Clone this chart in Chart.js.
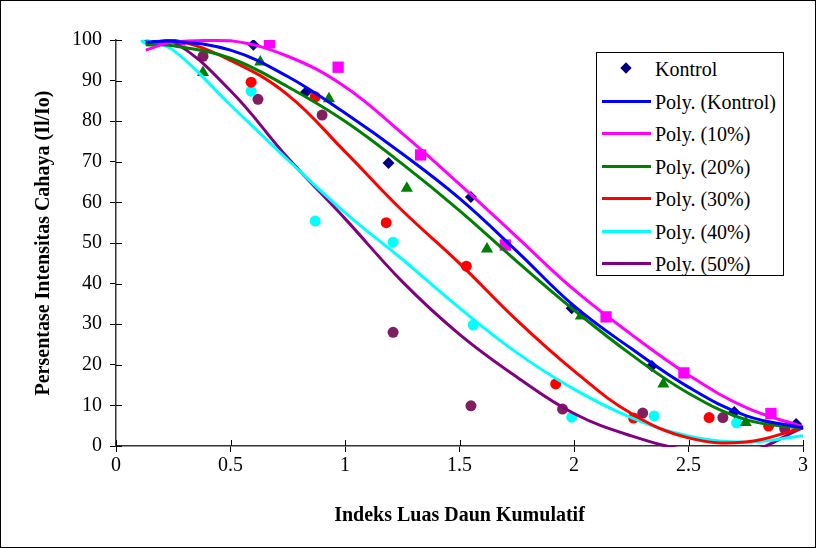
<!DOCTYPE html>
<html>
<head>
<meta charset="utf-8">
<script src="https://cdn.jsdelivr.net/npm/chart.js@4.4.1/dist/chart.umd.min.js"></script>
<style>
  html, body { margin: 0; padding: 0; background: #fff; }
  #wrap { position: relative; width: 816px; height: 548px; }
  #legend {
    position: absolute; left: 596px; top: 52px; width: 188px; height: 224px;
    border: 1px solid #000; background: #fff; box-sizing: border-box;
    font-family: "Liberation Serif", "Times New Roman", serif; font-size: 20px; color: #000;
  }
  .row { position: absolute; left: 0; height: 24px; line-height: 24px; }
  .row span.txt { position: absolute; left: 58px; top: 0; white-space: nowrap; }
  .sw { position: absolute; left: 5px; top: 10px; width: 49px; height: 3px; }
  .dia { position: absolute; left: 25px; top: 7px; width: 8px; height: 8px; background: #000080; transform: rotate(45deg); }
</style>
</head>
<body>
<div id="wrap">
  <canvas id="chart" width="816" height="548"></canvas>
  <div id="legend"></div>
</div>
<script>
// --- data points ---
const kontrolX = [0.15, 0.60, 0.83, 1.19, 1.55, 1.99, 2.34, 2.70, 2.97];
const kontrolY = [100, 98.8, 87.2, 69.7, 61.3, 33.9, 19.7, 8.4, 5.4];

const p10X = [0.28, 0.67, 0.97, 1.33, 1.70, 2.14, 2.48, 2.86];
const p10Y = [100, 99.3, 93.3, 71.7, 49.5, 31.8, 18.0, 8.0];

const p20X = [0.17, 0.38, 0.63, 0.93, 1.27, 1.62, 2.03, 2.39, 2.75];
const p20Y = [99.5, 92.0, 94.6, 85.5, 63.5, 48.5, 32.0, 15.3, 5.8];

const p30X = [0.16, 0.59, 0.87, 1.18, 1.53, 1.92, 2.26, 2.59, 2.85];
const p30Y = [100.5, 89.6, 86.0, 55.0, 44.3, 15.3, 6.9, 7.0, 4.9];

const p40X = [0.13, 0.59, 0.87, 1.21, 1.56, 1.99, 2.35, 2.71];
const p40Y = [100.2, 87.4, 55.4, 50.2, 29.8, 7.1, 7.4, 5.7];

const p50X = [0.175, 0.38, 0.62, 0.90, 1.21, 1.55, 1.95, 2.30, 2.65, 2.92];
const p50Y = [100.4, 96.0, 85.4, 81.5, 28.0, 9.9, 9.1, 8.1, 7.0, 4.3];

// --- trend lines (Poly.) ---
const trendX = [0.13, 0.25, 0.5, 0.75, 1.0, 1.25, 1.5, 1.75, 2.0, 2.25, 2.5, 2.75, 3.0];
const polyKontrol = [99.5, 99.7, 97.5, 91, 82, 72, 61, 48, 34.5, 24, 14.5, 7.5, 4.5];
const poly10 = [97.5, 99.5, 99.8, 96, 88.5, 77, 64.5, 51.5, 38.5, 27.5, 17.5, 9.5, 4.7];
const poly20 = [98.8, 98.6, 95.5, 88.5, 80, 69.5, 58, 45.5, 33.5, 22.5, 13, 6.5, 4.3];
const poly30 = [99, 100, 95, 86.5, 72.5, 58, 45, 31, 18.5, 8, 2, 1, 4.5];
const poly40 = [100, 97.5, 84, 70.5, 57.5, 46, 34, 23, 14, 7, 2.5, 1, 2.5];
const poly50 = [99, 99.5, 87.5, 71, 56, 40.5, 27.5, 17, 8, 2.5, -1, -1.5, 4.5];

const xTicks = [0, 0.5, 1, 1.5, 2, 2.5, 3];
const yTicks = [0, 10, 20, 30, 40, 50, 60, 70, 80, 90, 100];

const legendLabels = ["Kontrol", "Poly. (Kontrol)", "Poly. (10%)", "Poly. (20%)", "Poly. (30%)", "Poly. (40%)", "Poly. (50%)"];
const lineColors = ["#0000FF", "#FF00FF", "#008000", "#FF0000", "#00FFFF", "#800080"];

const pts = (xs, ys) => xs.map((x, i) => ({ x: x, y: ys[i] }));

function scatterSet(label, xs, ys, color, style, r) {
  return {
    label: label, data: pts(xs, ys), showLine: false, order: 2,
    pointStyle: style, pointRadius: r, pointBackgroundColor: color,
    pointBorderColor: color, pointBorderWidth: 0
  };
}
function trendSet(label, ys, color) {
  return {
    label: label, data: pts(trendX, ys), showLine: true, order: 1,
    borderColor: color, borderWidth: 3, pointRadius: 0, tension: 0.4, clip: 1
  };
}

const serif = "'Liberation Serif', 'Times New Roman', serif";

// frame + tick marks crossing the axes
const extras = {
  id: "extras",
  beforeDraw(chart) {
    const c = chart.ctx;
    c.save();
    c.fillStyle = "#fff";
    c.fillRect(0, 0, chart.width, chart.height);
    c.restore();
  },
  afterDraw(chart) {
    const c = chart.ctx, xs = chart.scales.x, ys = chart.scales.y;
    c.save();
    c.strokeStyle = "#000";
    c.lineWidth = 1;
    c.strokeRect(0.5, 0.5, chart.width - 1, chart.height - 1);
    c.beginPath();
    xTicks.forEach(v => {
      const px = Math.round(xs.getPixelForValue(v)) + 0.5;
      c.moveTo(px, ys.bottom); c.lineTo(px, ys.bottom - 6);
    });
    yTicks.forEach(v => {
      const py = Math.round(ys.getPixelForValue(v)) + 0.5;
      c.moveTo(xs.left, py); c.lineTo(xs.left + 6, py);
    });
    c.stroke();
    c.restore();
  }
};

new Chart(document.getElementById("chart"), {
  type: "scatter",
  data: {
    datasets: [
      scatterSet("Kontrol", kontrolX, kontrolY, "#000080", "rectRot", 6),
      scatterSet("10%", p10X, p10Y, "#FF00FF", "rect", 8),
      scatterSet("20%", p20X, p20Y, "#008000", "triangle", 7),
      scatterSet("30%", p30X, p30Y, "#FF0000", "circle", 5.5),
      scatterSet("40%", p40X, p40Y, "#00FFFF", "circle", 5.5),
      scatterSet("50%", p50X, p50Y, "#7F1F5F", "circle", 5.5),
      trendSet("Poly. (Kontrol)", polyKontrol, lineColors[0]),
      trendSet("Poly. (10%)", poly10, lineColors[1]),
      trendSet("Poly. (20%)", poly20, lineColors[2]),
      trendSet("Poly. (30%)", poly30, lineColors[3]),
      trendSet("Poly. (40%)", poly40, lineColors[4]),
      trendSet("Poly. (50%)", poly50, lineColors[5])
    ]
  },
  options: {
    responsive: false,
    animation: false,
    events: [],
    layout: { padding: { top: 40, right: 13, bottom: 20, left: 32 } },
    plugins: { legend: { display: false }, tooltip: { enabled: false } },
    scales: {
      x: {
        type: "linear", min: 0, max: 3,
        afterBuildTicks: s => { s.ticks = xTicks.map(v => ({ value: v })); },
        afterFit: s => { s.height = 82; },
        grid: { drawOnChartArea: false, drawTicks: true, tickLength: 6, color: "#000" },
        border: { color: "#333", width: 1.5 },
        ticks: { color: "#000", padding: 2, font: { family: serif, size: 20 }, maxRotation: 0,
                 callback: v => String(v) },
        title: { display: true, text: "Indeks Luas Daun Kumulatif", color: "#000", padding: 0,
                 font: { family: serif, size: 20, weight: "bold" } }
      },
      y: {
        type: "linear", min: 0, max: 100,
        afterBuildTicks: s => { s.ticks = yTicks.map(v => ({ value: v })); },
        afterFit: s => { s.width = 84; },
        grid: { drawOnChartArea: false, drawTicks: true, tickLength: 6, color: "#000" },
        border: { color: "#333", width: 1.5 },
        ticks: { color: "#000", padding: 8, font: { family: serif, size: 20 }, callback: v => String(v) },
        title: { display: true, text: "Persentase Intensitas Cahaya (Il/Io)", color: "#000", padding: 0,
                 font: { family: serif, size: 20, weight: "bold" } }
      }
    }
  },
  plugins: [extras]
});

// legend drawn as HTML text inside the plot
const lg = document.getElementById("legend");
legendLabels.forEach((t, i) => {
  const row = document.createElement("div");
  row.className = "row";
  row.style.top = (4 + i * 32.5) + "px";
  row.style.width = "100%";
  if (i === 0) {
    const d = document.createElement("div"); d.className = "dia"; row.appendChild(d);
  } else {
    const s = document.createElement("div"); s.className = "sw";
    s.style.background = lineColors[i - 1]; row.appendChild(s);
  }
  const tx = document.createElement("span"); tx.className = "txt"; tx.textContent = t;
  row.appendChild(tx);
  lg.appendChild(row);
});
</script>
</body>
</html>
